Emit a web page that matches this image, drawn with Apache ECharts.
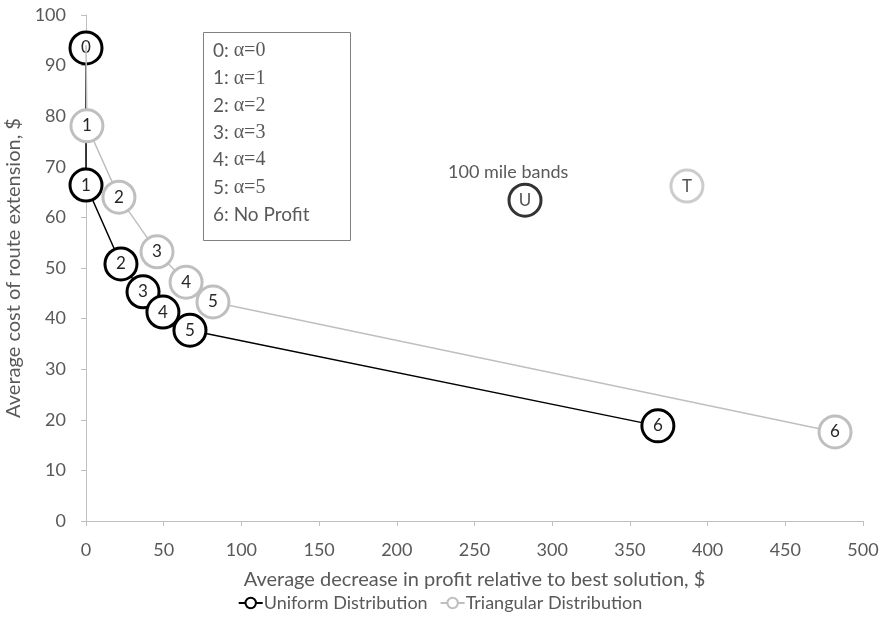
<!DOCTYPE html>
<html>
<head>
<meta charset="utf-8">
<script src="https://cdn.jsdelivr.net/npm/echarts@6/dist/echarts.min.js"></script>
<style>
  html, body { margin: 0; padding: 0; background: #fff; }
  #chart { width: 880px; height: 632px; }
</style>
</head>
<body>
<div id="chart"></div>
<script>
// point labels (the alpha step shown inside each circle)
const uniformLabels = ['0', '1', '2', '3', '4', '5', '6']
const uniformX = [0, 0, 22.5, 36.7, 49.5, 66.9, 368]
const uniformY = [93.5, 66.4, 50.8, 45.3, 41.3, 37.7, 18.8]

// first triangular point sits under the uniform "0" circle, no marker
const triLabels = ['', '1', '2', '3', '4', '5', '6']
const triX = [0, 0.6, 21.2, 45.7, 64.4, 81.7, 482]
const triY = [94, 78.1, 64.0, 53.2, 47.2, 43.3, 17.6]

// 100 mile band markers
const bandLabels = ['U', 'T']
const bandX = [282.5, 386.7]
const bandY = [63.4, 66.2]

const keyLines = ['0: ', '1: ', '2: ', '3: ', '4: ', '5: ', '6: No Profit']
const keyAlpha = ['α=0', 'α=1', 'α=2', 'α=3', 'α=4', 'α=5', '']

const FONT = 'Lato, "Open Sans", sans-serif'
const BLACK = '#000000'
const GRAY = '#bfbfbf'
const TEXT = '#595959'

function points(xs, ys, labels) {
  return xs.map((x, i) => ({ value: [x, ys[i]], name: labels[i] }))
}

const chart = echarts.init(document.getElementById('chart'))

const keyGraphics = keyLines.map((t, i) => ({
  type: 'text',
  left: 213,
  top: 41 + i * 27.3,
  style: {
    text: '{a|' + t + '}{b|' + keyAlpha[i] + '}',
    rich: {
      a: { fontFamily: FONT, fontSize: 19, fill: TEXT },
      b: { fontFamily: '"Liberation Serif", "DejaVu Serif", serif', fontSize: 20, fill: TEXT }
    }
  }
}))

const symbolLabel = {
  show: true,
  position: 'inside',
  formatter: p => p.name,
  fontFamily: FONT,
  fontSize: 17,
  color: '#262626'
}

chart.setOption({
  animation: false,
  grid: { left: 86, right: 17, top: 15, bottom: 111, outerBoundsMode: 'none', containLabel: false },
  xAxis: {
    type: 'value',
    min: 0,
    max: 500,
    interval: 50,
    name: 'Average decrease in profit relative to best solution, $',
    nameLocation: 'middle',
    nameGap: 49,
    nameTextStyle: { fontFamily: FONT, fontSize: 20, color: TEXT },
    axisLine: { show: true, lineStyle: { color: GRAY } },
    axisTick: { show: true, length: 5, lineStyle: { color: GRAY } },
    axisLabel: { fontFamily: FONT, fontSize: 18, color: TEXT, margin: 20 },
    splitLine: { show: false }
  },
  yAxis: {
    type: 'value',
    min: 0,
    max: 100,
    interval: 10,
    name: 'Average cost of route extension, $',
    nameLocation: 'middle',
    nameGap: 56,
    nameTextStyle: { fontFamily: FONT, fontSize: 20, color: TEXT },
    axisLine: { show: true, lineStyle: { color: GRAY } },
    axisTick: { show: true, length: 5, lineStyle: { color: GRAY } },
    axisLabel: { fontFamily: FONT, fontSize: 18, color: TEXT, margin: 20 },
    splitLine: { show: false }
  },
  legend: {
    bottom: 15,
    left: 'center',
    itemWidth: 24,
    itemHeight: 13,
    itemGap: 12,
    textStyle: { fontFamily: FONT, fontSize: 18, color: TEXT, padding: [0, 0, 0, -4] },
    data: ['Uniform Distribution', 'Triangular Distribution']
  },
  graphic: [
    {
      type: 'rect',
      left: 203,
      top: 32,
      shape: { width: 147, height: 208 },
      style: { fill: '#fff', stroke: '#808080', lineWidth: 1 }
    },
    ...keyGraphics,
    {
      type: 'text',
      left: 448,
      top: 163,
      style: { text: '100 mile bands', fontFamily: FONT, fontSize: 18, fill: TEXT }
    }
  ],
  series: [
    {
      name: 'Uniform Distribution',
      type: 'line',
      data: points(uniformX, uniformY, uniformLabels),
      symbol: 'circle',
      symbolSize: 32,
      showAllSymbol: true,
      z: 2,
      itemStyle: { color: '#fff', borderColor: BLACK, borderWidth: 3 },
      lineStyle: { color: BLACK, width: 1.5 },
      label: symbolLabel
    },
    {
      name: 'Triangular Distribution',
      type: 'line',
      data: points(triX, triY, triLabels).map((d, i) => i === 0 ? { ...d, symbol: 'none' } : d),
      symbol: 'circle',
      symbolSize: 32,
      showAllSymbol: true,
      z: 3,
      itemStyle: { color: '#fff', borderColor: GRAY, borderWidth: 3 },
      lineStyle: { color: GRAY, width: 1.5 },
      label: symbolLabel
    },
    {
      name: 'U',
      type: 'scatter',
      data: [points(bandX, bandY, bandLabels)[0]],
      symbolSize: 32,
      z: 4,
      itemStyle: { color: '#fff', borderColor: BLACK, borderWidth: 3 },
      label: symbolLabel
    },
    {
      name: 'T',
      type: 'scatter',
      data: [points(bandX, bandY, bandLabels)[1]],
      symbolSize: 32,
      z: 4,
      itemStyle: { color: '#fff', borderColor: GRAY, borderWidth: 3 },
      label: symbolLabel
    }
  ]
})
</script>
</body>
</html>
